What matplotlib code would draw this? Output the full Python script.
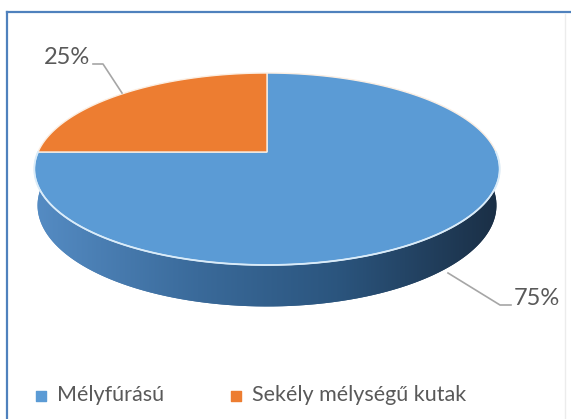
import numpy as np
import matplotlib.pyplot as plt
from matplotlib.patches import Polygon
from matplotlib.colors import LinearSegmentedColormap

plt.rcParams['font.family'] = ['Lato', 'DejaVu Sans']

labels = ['Mélyfúrású', 'Sekély mélységű kutak']
values = [75, 25]
colors = ['#5B9BD5', '#ED7D31']
pct_labels = ['75%', '25%']

# perspective of the 3D pie (pixel space)
CX, CY = 267, 152
K = 229
SIN_E = 0.406
COS_E = np.sqrt(1 - SIN_E**2)
RHO = 0.194
H = 0.173


def proj(th, y=0.0):
    X = np.cos(th)
    Z = np.sin(th)
    Yp = y * COS_E + Z * SIN_E
    Zp = -y * SIN_E + Z * COS_E
    w = 1 + RHO * Zp
    return CX + K * X / w, CY - K * Yp / w


def arc(a1, a2, y=0.0, n=200):
    th = np.linspace(a1, a2, n)
    x, yy = proj(th, y)
    return np.column_stack([x, yy])


fig = plt.figure(figsize=(5.71, 4.19), dpi=100)
ax = fig.add_axes([0, 0, 1, 1])
ax.set_xlim(0, 571)
ax.set_ylim(419, 0)
ax.axis('off')

# frame
ax.plot([7, 571], [12, 12], color='#4f81bd', lw=1.6, zorder=1)
ax.plot([7, 7], [12, 419], color='#4f81bd', lw=1.6, zorder=1)
ax.plot([565, 565], [14, 419], color='#ececec', lw=1.0, zorder=1)

# side of the cylinder with a horizontal gradient
side_cmap = LinearSegmentedColormap.from_list(
    'side', [(0.0, '#558cc4'), (0.35, '#3a6a9a'), (0.65, '#2b557e'), (1.0, '#1a2e44')])
grad = np.linspace(0, 1, 256).reshape(1, -1)

side_pts = np.vstack([arc(np.pi, 2 * np.pi), arc(2 * np.pi, np.pi, -H)])
bottom_pts = arc(0, 2 * np.pi, -H)
for pts in [side_pts, bottom_pts]:
    poly = Polygon(pts, closed=True, facecolor='none', edgecolor='none')
    ax.add_patch(poly)
    im = ax.imshow(grad, cmap=side_cmap, extent=[33, 502, 320, 100],
                   aspect='auto', interpolation='bilinear', zorder=2)
    im.set_clip_path(poly)

# top face wedges, first slice starts at 12 o'clock going clockwise
start = np.pi / 2
total = sum(values)
for v, c in zip(values, colors):
    sweep = 2 * np.pi * v / total
    pts = np.vstack([[CX, CY], arc(start, start - sweep)])
    ax.add_patch(Polygon(pts, closed=True, facecolor=c, edgecolor='#fbeee2',
                         lw=1.0, zorder=3))
    start -= sweep

# highlight on the front rim
rim = arc(np.pi, 2 * np.pi)
ax.plot(rim[:, 0], rim[:, 1], color='#d8ecfb', lw=1.3, zorder=4)

# data labels with leader lines
ax.plot([93, 103, 122], [64, 64, 93], color='#a6a6a6', lw=1.2, zorder=5)
ax.text(67, 57, pct_labels[1], fontsize=17, color='#595959', ha='center', va='center')
ax.plot([448, 500, 511], [273, 305, 305], color='#a6a6a6', lw=1.2, zorder=5)
ax.text(537, 298, pct_labels[0], fontsize=17, color='#595959', ha='center', va='center')

# legend, drawn by hand
leg_x = [41, 236]
for x, lab, c in zip(leg_x, labels, colors):
    ax.scatter([x], [395.5], marker='s', s=42, color=c, zorder=5)
    ax.text(x + 16, 395, lab, fontsize=15.5, color='#595959', ha='left', va='center')

fig.savefig('out.png', dpi=100)
